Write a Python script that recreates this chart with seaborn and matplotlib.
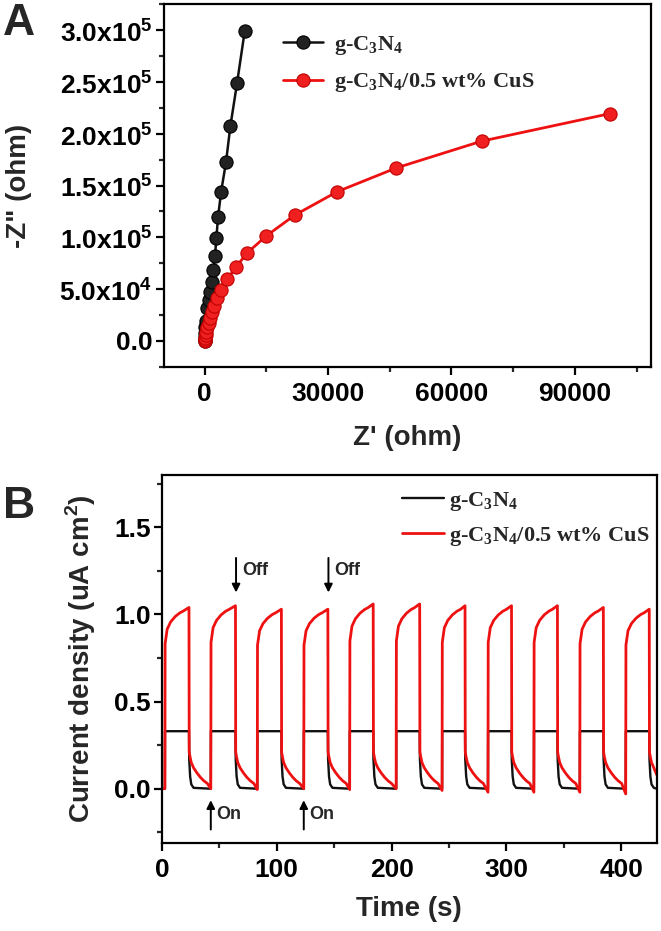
import numpy as np
import pandas as pd
import matplotlib
matplotlib.use("Agg")
import matplotlib.pyplot as plt
from matplotlib.ticker import MultipleLocator, FixedLocator, FixedFormatter
import seaborn as sns

# ---------------- data: panel A (Nyquist) ----------------
gcn_zre = [0, 20, 60, 120, 200, 300, 490, 970, 1390, 1780, 2120, 2510, 2850, 3240, 4000, 5190, 6250, 7870, 9730]
gcn_zim = [0, 1000, 4000, 8000, 13000, 19000, 31500, 39500, 46900, 57100, 68400, 81900, 99500, 119200, 144000, 172700, 207400, 248800, 299000]

cus_zre = [0, 50, 130, 250, 400, 650, 950, 1300, 1700, 2200, 3090, 3890, 5520, 7540, 10390, 15010, 21900, 32200, 46600, 67300, 98600]
cus_zim = [0, 1000, 3000, 5500, 9000, 13000, 17500, 22500, 28000, 34000, 41100, 49100, 59400, 71000, 85100, 101400, 121400, 144000, 167000, 192800, 219500]

a_yticks = [0, 50000, 100000, 150000, 200000, 250000, 300000]
a_ylabels = ["0.0", r"5.0x10$^{\mathsf{4}}$", r"1.0x10$^{\mathsf{5}}$", r"1.5x10$^{\mathsf{5}}$",
             r"2.0x10$^{\mathsf{5}}$", r"2.5x10$^{\mathsf{5}}$", r"3.0x10$^{\mathsf{5}}$"]
a_xticks = [0, 30000, 60000, 90000]
a_xlabels = ["0", "30000", "60000", "90000"]

# ---------------- data: panel B (photocurrent) ----------------
on_times = [2.5, 42.5, 83.0, 123.5, 163.5, 204.0, 244.0, 284.0, 324.0, 364.0, 404.0]
off_times = [23.5, 64.0, 104.0, 144.5, 184.0, 224.5, 264.0, 304.5, 344.5, 384.5, 424.5]
red_peak = [1.04, 1.05, 1.03, 1.03, 1.06, 1.06, 1.05, 1.05, 1.05, 1.04, 1.03]
red_low = [0.0, -0.005, 0.0, -0.005, 0.0, -0.01, -0.02, -0.02, -0.02, -0.03, 0.08]
red_rise_dt = [0.2, 2.0, 5.0, 9.0, 13.0, 16.0]
red_rise_frac = [0.80, 0.88, 0.92, 0.95, 0.97, 0.98]
red_decay_dt = [0.2, 1.0, 2.0, 4.0, 7.0, 10.0, 13.0, 16.0]
red_decay_v = [0.21, 0.18, 0.15, 0.12, 0.09, 0.065, 0.045, 0.03]
black_on = [0.33, 0.33, 0.33, 0.33, 0.33, 0.33, 0.33, 0.33, 0.33, 0.33, 0.33]
black_decay_dt = [0.2, 1.0, 2.0, 4.0]
black_decay_v = [0.17, 0.07, 0.025, 0.005]
t_end = 431.0

b_yticks = [0.0, 0.5, 1.0, 1.5]
b_xticks = [0, 100, 200, 300, 400]

arrow_off_t = [64.5, 145.0]
arrow_on_t = [42.5, 123.5]

# ---------------- build traces from the read values ----------------
def build_red():
    t, v = [0.0], [0.0]
    n = len(on_times)
    prev_low = 0.0
    for i in range(n):
        on, off = on_times[i], off_times[i]
        t.append(on); v.append(prev_low)
        for dt, f in zip(red_rise_dt, red_rise_frac):
            t.append(on + dt); v.append(f * red_peak[i])
        t.append(off); v.append(red_peak[i])
        end = on_times[i + 1] if i + 1 < n else t_end
        for dt, val in zip(red_decay_dt, red_decay_v):
            if off + dt < end:
                t.append(off + dt); v.append(val)
        t.append(end); v.append(red_low[i])
        prev_low = red_low[i]
    return t, v

def build_black():
    t, v = [0.0], [0.0]
    n = len(on_times)
    for i in range(n):
        on, off = on_times[i], off_times[i]
        t.append(on); v.append(0.0)
        t.append(on + 0.1); v.append(black_on[i])
        t.append(off); v.append(black_on[i])
        end = on_times[i + 1] if i + 1 < n else t_end
        for dt, val in zip(black_decay_dt, black_decay_v):
            if off + dt < end:
                t.append(off + dt); v.append(val)
        t.append(end); v.append(0.0)
    return t, v

rt, rv = build_red()
bt, bv = build_black()

# ---------------- styling ----------------
sns.set_style("ticks")
plt.rcParams["font.family"] = ["Liberation Sans", "DejaVu Sans"]
plt.rcParams["font.weight"] = "bold"
plt.rcParams["mathtext.fontset"] = "custom"
plt.rcParams["mathtext.rm"] = "Liberation Serif:bold"
plt.rcParams["mathtext.sf"] = "Liberation Sans:bold"
plt.rcParams["mathtext.bf"] = "Liberation Serif:bold"

RED = "#ee1111"
BLACK = "#111111"

fig = plt.figure(figsize=(6.61, 9.31), dpi=100)
ax1 = fig.add_axes([0.2474, 0.6061, 0.7375, 0.3893])
ax2 = fig.add_axes([0.2451, 0.0948, 0.7484, 0.3950])

legend_font = {"family": "Liberation Serif", "weight": "bold", "size": 16}

def style_axes(ax):
    for s in ax.spines.values():
        s.set_visible(True)
        s.set_linewidth(1.6)
        s.set_color("black")
    ax.tick_params(axis="both", which="major", direction="out", length=6, width=1.6,
                   labelsize=19, colors="black")
    ax.tick_params(axis="both", which="minor", direction="out", length=3.5, width=1.6)
    ax.tick_params(axis="y", which="both", pad=2)
    ax.tick_params(axis="x", which="both", pad=5)
    for lab in ax.get_xticklabels() + ax.get_yticklabels():
        lab.set_fontweight("bold")

# ---- Panel A ----
dfa1 = pd.DataFrame({"zre": gcn_zre, "zim": gcn_zim})
dfa2 = pd.DataFrame({"zre": cus_zre, "zim": cus_zim})
sns.lineplot(data=dfa1, x="zre", y="zim", ax=ax1, sort=False, estimator=None, color=BLACK,
             lw=1.8, marker="o", markersize=9.5, markerfacecolor="#222222",
             markeredgecolor="#000000", markeredgewidth=0.8, label=r"g-C$_{3}$N$_{4}$")
sns.lineplot(data=dfa2, x="zre", y="zim", ax=ax1, sort=False, estimator=None, color=RED,
             lw=2.0, marker="o", markersize=9.5, markerfacecolor="#f02020",
             markeredgecolor="#c00000", markeredgewidth=0.8,
             label=r"g-C$_{3}$N$_{4}$/0.5 wt% CuS")
ax1.set_xlim(-10000, 108500)
ax1.set_ylim(-25000, 325000)
ax1.xaxis.set_major_locator(FixedLocator(a_xticks))
ax1.xaxis.set_major_formatter(FixedFormatter(a_xlabels))
ax1.xaxis.set_minor_locator(MultipleLocator(15000))
ax1.yaxis.set_major_locator(FixedLocator(a_yticks))
ax1.yaxis.set_major_formatter(FixedFormatter(a_ylabels))
ax1.yaxis.set_minor_locator(MultipleLocator(25000))
style_axes(ax1)
ax1.set_xlabel("Z' (ohm)", fontsize=20, fontweight="bold", labelpad=14)
ax1.set_ylabel('-Z" (ohm)', fontsize=20, fontweight="bold")
ax1.yaxis.set_label_coords(-0.27, 0.5)
leg1 = ax1.legend(loc="upper left", bbox_to_anchor=(0.245, 0.918), frameon=False,
                  prop=legend_font, handlelength=1.8, handletextpad=0.5,
                  labelspacing=0.65, borderpad=0, borderaxespad=0)

# ---- Panel B ----
dfb1 = pd.DataFrame({"t": bt, "j": bv})
dfb2 = pd.DataFrame({"t": rt, "j": rv})
sns.lineplot(data=dfb1, x="t", y="j", ax=ax2, sort=False, estimator=None, color=BLACK,
             lw=1.7, label=r"g-C$_{3}$N$_{4}$")
sns.lineplot(data=dfb2, x="t", y="j", ax=ax2, sort=False, estimator=None, color=RED,
             lw=2.0, label=r"g-C$_{3}$N$_{4}$/0.5 wt% CuS")
ax2.set_xlim(0, 431)
ax2.set_ylim(-0.31, 1.80)
ax2.xaxis.set_major_locator(FixedLocator(b_xticks))
ax2.xaxis.set_minor_locator(MultipleLocator(50))
ax2.yaxis.set_major_locator(FixedLocator(b_yticks))
ax2.yaxis.set_major_formatter(FixedFormatter(["0.0", "0.5", "1.0", "1.5"]))
ax2.yaxis.set_minor_locator(MultipleLocator(0.25))
style_axes(ax2)
ax2.set_xlabel("Time (s)", fontsize=20, fontweight="bold", labelpad=10)
ax2.set_ylabel(r"Current density (uA cm$^{\mathsf{2}}$)", fontsize=20, fontweight="bold")
ax2.yaxis.set_label_coords(-0.13, 0.5)
leg2 = ax2.legend(loc="upper left", bbox_to_anchor=(0.485, 0.96), frameon=False,
                  prop=legend_font, handlelength=1.9, handletextpad=0.2,
                  labelspacing=0.55, borderpad=0, borderaxespad=0)

arrow_props = dict(arrowstyle="-|>", color="black", lw=1.4, mutation_scale=12)
for t in arrow_off_t:
    ax2.annotate("", xy=(t, 1.11), xytext=(t, 1.34), arrowprops=arrow_props)
    ax2.text(t + 5, 1.25, "Off", fontsize=13, fontweight="bold", ha="left", va="center")
for t in arrow_on_t:
    ax2.annotate("", xy=(t, -0.05), xytext=(t, -0.25), arrowprops=arrow_props)
    ax2.text(t + 5, -0.15, "On", fontsize=13, fontweight="bold", ha="left", va="center")

# panel letters
fig.text(0.005, 0.997, "A", fontsize=32, fontweight="bold", ha="left", va="top")
fig.text(0.005, 0.478, "B", fontsize=32, fontweight="bold", ha="left", va="top")

fig.savefig("out.png", dpi=100)
